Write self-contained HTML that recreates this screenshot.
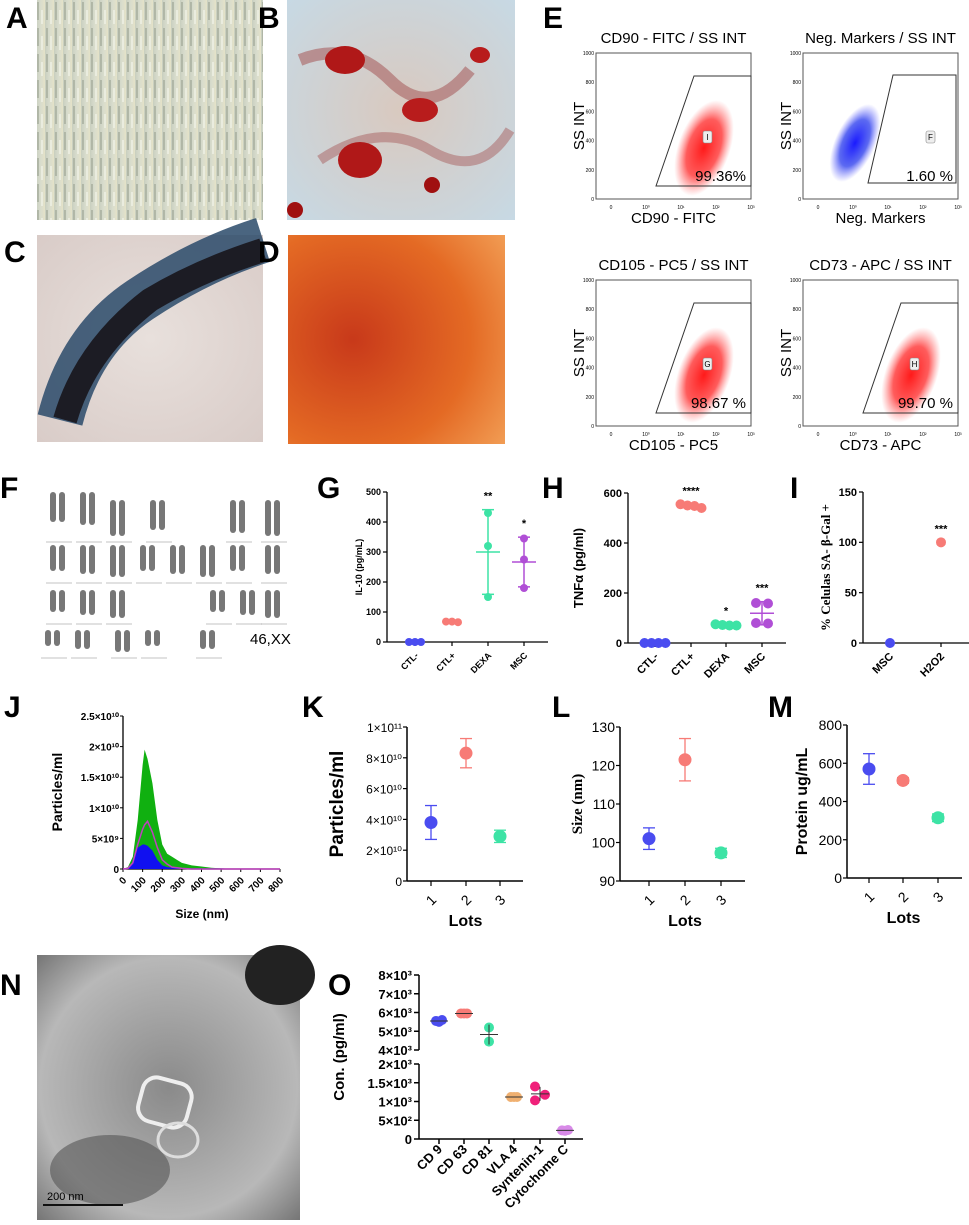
<!DOCTYPE html>
<html><head><meta charset="utf-8">
<style>
html,body{margin:0;padding:0;background:#fff}
svg{display:block;font-family:"Liberation Sans",Arial,sans-serif}
.lt{font-weight:bold;font-size:30px}
</style></head>
<body>
<svg id="fig" width="969" height="1225" viewBox="0 0 969 1225" xmlns="http://www.w3.org/2000/svg">
<defs>
<linearGradient id="gA" x1="0" y1="0" x2="1" y2="0"><stop offset="0" stop-color="#c9cfbf"/><stop offset=".5" stop-color="#d8dccd"/><stop offset="1" stop-color="#e4e2c8"/></linearGradient>
<pattern id="pA" width="9" height="26" patternUnits="userSpaceOnUse"><rect width="9" height="26" fill="url(#gA)"/><rect x="1" y="2" width="2" height="18" fill="#9ba392" opacity=".6"/><rect x="5" y="10" width="2" height="14" fill="#eef0e4" opacity=".8"/></pattern>
<radialGradient id="gB" cx=".5" cy=".5" r=".7"><stop offset="0" stop-color="#d9c9bf"/><stop offset="1" stop-color="#c7d9e4"/></radialGradient>
<radialGradient id="gC" cx=".5" cy=".5" r=".7"><stop offset="0" stop-color="#e8e0dc"/><stop offset="1" stop-color="#d9ccc8"/></radialGradient>
<radialGradient id="gD" cx=".3" cy=".5" r=".9"><stop offset="0" stop-color="#c8391a"/><stop offset=".6" stop-color="#e46a24"/><stop offset="1" stop-color="#f3a35a"/></radialGradient>
<radialGradient id="gN" cx=".5" cy=".5" r=".7"><stop offset="0" stop-color="#8a8a8a"/><stop offset=".7" stop-color="#b8b8b8"/><stop offset="1" stop-color="#777"/></radialGradient>
<radialGradient id="cloudR"><stop offset="0" stop-color="#ff1a1a"/><stop offset=".6" stop-color="#f33" stop-opacity=".8"/><stop offset="1" stop-color="#f66" stop-opacity="0"/></radialGradient>
<radialGradient id="cloudB"><stop offset="0" stop-color="#1a1aff"/><stop offset=".6" stop-color="#3344ee" stop-opacity=".8"/><stop offset="1" stop-color="#66f" stop-opacity="0"/></radialGradient>
</defs>

<rect x="37" y="0" width="226" height="220" fill="url(#pA)"/>
<g>
<rect x="287" y="0" width="228" height="220" fill="url(#gB)"/>
<path d="M300 60 Q350 40 390 80 T470 70" stroke="#a86060" stroke-width="12" fill="none" opacity=".6"/>
<path d="M320 160 Q380 120 430 150 T510 130" stroke="#a86060" stroke-width="10" fill="none" opacity=".5"/>
<ellipse cx="345" cy="60" rx="20" ry="14" fill="#b01818"/><ellipse cx="420" cy="110" rx="18" ry="12" fill="#b81c1c"/><ellipse cx="360" cy="160" rx="22" ry="18" fill="#b01818"/><ellipse cx="480" cy="55" rx="10" ry="8" fill="#b81c1c"/><circle cx="432" cy="185" r="8" fill="#a01010"/><circle cx="295" cy="210" r="8" fill="#a01010"/>
</g>
<g>
<rect x="37" y="235" width="226" height="207" fill="url(#gC)"/>
<path d="M60 420 Q80 340 140 300 Q200 260 263 240" stroke="#2a4a6a" stroke-width="46" fill="none" opacity=".85"/>
<path d="M65 420 Q85 350 150 300 Q200 270 263 250" stroke="#1c1c24" stroke-width="24" fill="none"/>
</g>
<rect x="288" y="235" width="217" height="209" fill="url(#gD)"/>
<g id="kary"></g>
<text x="250" y="644" font-size="15">46,XX</text>
<g>
<rect x="37" y="955" width="263" height="265" fill="url(#gN)"/>
<ellipse cx="280" cy="975" rx="35" ry="30" fill="#222"/>
<ellipse cx="110" cy="1170" rx="60" ry="35" fill="#555" opacity=".6"/>
<rect x="140" y="1080" width="50" height="45" rx="14" fill="none" stroke="#eee" stroke-width="4" transform="rotate(15 165 1102)"/>
<ellipse cx="178" cy="1140" rx="20" ry="17" fill="none" stroke="#ddd" stroke-width="3"/>
<line x1="43" y1="1205" x2="123" y2="1205" stroke="#111" stroke-width="2"/>
<text x="47" y="1200" font-size="11">200 nm</text>
</g>

<g>
<text class="lt" x="6" y="28">A</text><text class="lt" x="258" y="28">B</text><text class="lt" x="543" y="28">E</text>
<text class="lt" x="4" y="262">C</text><text class="lt" x="258" y="262">D</text>
<text class="lt" x="0" y="498">F</text><text class="lt" x="317" y="498">G</text><text class="lt" x="542" y="498">H</text><text class="lt" x="790" y="498">I</text>
<text class="lt" x="4" y="717">J</text><text class="lt" x="302" y="717">K</text><text class="lt" x="552" y="717">L</text><text class="lt" x="768" y="717">M</text>
<text class="lt" x="0" y="995">N</text><text class="lt" x="328" y="995">O</text>
</g>
<g id="charts"></g>
</svg>
<script>
// ---- data ----
const flowTitles=["CD90 - FITC / SS INT","Neg. Markers / SS INT","CD105 - PC5 / SS INT","CD73 - APC / SS INT"];
const flowXLabels=["CD90 - FITC","Neg. Markers","CD105 - PC5","CD73 - APC"];
const flowPct=["99.36%","1.60 %","98.67 %","99.70 %"];
const flowGate=["I","F","G","H"];
const gCats=["CTL-","CTL+","DEXA","MSC"];
const gVals=[[0,0,0],[68,68,66],[430,320,150],[345,275,180]];
const gStars=["","","**","*"];
const gTicks=[0,100,200,300,400,500];
const hCats=["CTL-","CTL+","DEXA","MSC"];
const hVals=[[0,0,0,0],[555,550,548,540],[75,72,70,70],[160,158,80,78]];
const hStars=["","****","*","***"];
const hTicks=[0,200,400,600];
const iCats=["MSC","H2O2"];
const iVals=[[0],[100]];
const iStars=["","***"];
const iTicks=[0,50,100,150];
const jSizes=[0,25,50,75,100,110,125,150,175,200,225,250,275,300,350,400,450,500,600,800];
const jTotal=[0,0.3,2,8,17,19.5,18,14,8,4,2.5,2,1.5,1,0.6,0.4,0.2,0.1,0,0];
const jMean=[0,0.1,1,4,6.5,7.2,7.8,6,3.5,1.5,0.8,0.3,0.2,0.1,0,0,0,0,0,0];
const jLow=[0,0.1,1,3.5,4,4,3.8,3,1.5,0.6,0.3,0.2,0.1,0.1,0.1,0.1,0.1,0.1,0,0];
const lots=["1","2","3"];
const kMean=[38,83,29], kErr=[11,9.5,4];
const lMean=[101,121.5,97.3], lErr=[2.8,5.5,1.2];
const mMean=[570,510,315], mErr=[80,15,20];
const oCats=["CD 9","CD 63","CD 81","VLA 4","Syntenin-1","Cytochome C"];
const oVals=[[5550,5500,5600],[5950,5950,5950],[5200,4450],[1120,1120,1120],[1400,1180,1030],[230,220,240]];
const colors=["#4a4cf0","#f77b76","#3de3a5","#b04fd6"];
const oColors=["#4a4cf0","#f77b76","#3de3a5","#f0b070","#f0207a","#d88ae8"];

const NS="http://www.w3.org/2000/svg";
const root=document.getElementById('charts');
function mk(tag,attrs,parent,name){const el=document.createElementNS(NS,tag);for(const k in attrs)el.setAttribute(k,attrs[k]);


(parent||root).appendChild(el);return el;}
function txt(s,x,y,o,parent,name){const t=mk('text',Object.assign({x:x,y:y},o||{}),parent,name);t.textContent=s;return t;}
function lin(x1,y1,x2,y2,parent,name,w,c){return mk('line',{x1,y1,x2,y2,stroke:c||'#000','stroke-width':w||1.5},parent,name);}
function sc(d0,d1,r0,r1){return v=>r0+(v-d0)*(r1-r0)/(d1-d0);}
const mean=a=>a.reduce((s,v)=>s+v,0)/a.length;
const sd=a=>{const m=mean(a);return a.length>1?Math.sqrt(a.reduce((s,v)=>s+(v-m)*(v-m),0)/(a.length-1)):0;};

// ---- karyotype ----
(function(){const g=document.getElementById('kary');
const rows=[[500,[50,80,110,150,230,265],30],[545,[50,80,110,140,170,200,230,265],26],[590,[50,80,110,210,240,265],22],[630,[45,75,115,145,200],16]];
rows.forEach((r,ri)=>r[1].forEach((x,i)=>{[0,9].forEach(dx=>{mk('rect',{x:x+dx,y:r[0]-(ri==0&&i<2?8:0),width:6,height:r[2]+(i%3)*3,rx:3,fill:'#777'},g,'chromosome');});lin(x-4,r[0]+r[2]+12,x+22,r[0]+r[2]+12,g,'chromosome-line',0.6,'#888');}));})();

// ---- flow cytometry ----
const flowBoxes=[[596,53],[803,53],[596,280],[803,280]];
flowBoxes.forEach((b,i)=>{const g=mk('g',{},root,'flow-plot-'+(i+1));const W=155,H=146,x0=b[0],y0=b[1];
txt(flowTitles[i],x0+W/2,y0-10,{'font-size':15,'text-anchor':'middle'},g,'flow-title');
mk('rect',{x:x0,y:y0,width:W,height:H,fill:'none',stroke:'#555','stroke-width':1},g,'flow-frame');
const ys=sc(0,1000,y0+H,y0);
[0,200,400,600,800,1000].forEach(v=>txt(String(v),x0-2,ys(v)+2,{'font-size':5,'text-anchor':'end'},g,'flow-y-tick'));
['0','10⁰','10¹','10²','10³'].forEach((s,k)=>txt(s,x0+15+k*35,y0+H+10,{'font-size':5,'text-anchor':'middle'},g,'flow-x-tick'));
txt('SS INT',x0-12,y0+H/2,{'font-size':15,'text-anchor':'middle',transform:`rotate(-90 ${x0-12} ${y0+H/2})`},g,'flow-y-label');
txt(flowXLabels[i],x0+W/2,y0+H+24,{'font-size':15,'text-anchor':'middle'},g,'flow-x-label');
if(i==1){mk('ellipse',{cx:x0+52,cy:y0+90,rx:20,ry:42,fill:'url(#cloudB)',transform:`rotate(25 ${x0+52} ${y0+90})`},g,'flow-cloud');
mk('path',{d:`M${x0+65} ${y0+130} L${x0+90} ${y0+22} L${x0+153} ${y0+22} L${x0+153} ${y0+130} Z`,fill:'none',stroke:'#333'},g,'flow-gate');}
else{mk('ellipse',{cx:x0+108,cy:y0+95,rx:26,ry:50,fill:'url(#cloudR)',transform:`rotate(20 ${x0+108} ${y0+95})`},g,'flow-cloud');
mk('path',{d:`M${x0+60} ${y0+133} L${x0+98} ${y0+23} L${x0+155} ${y0+23} L${x0+155} ${y0+133} Z`,fill:'none',stroke:'#333'},g,'flow-gate');}
mk('rect',{x:x0+(i==1?123:107),y:y0+78,width:9,height:12,rx:2,fill:'#eee',stroke:'#888','stroke-width':.6},g,'flow-gate-label-box');
txt(flowGate[i],x0+(i==1?127.5:111.5),y0+87,{'font-size':8,'text-anchor':'middle'},g,'flow-gate-label');
txt(flowPct[i],x0+150,y0+128,{'font-size':15,'text-anchor':'end'},g,'flow-percent');});

// ---- dot plots G,H,I ----
function dotPlot(name,ax,yTop,y0,xEnd,ticks,cats,vals,stars,catX,label,lx,r,tsz,lsz,serif,spread){
const g=mk('g',{},root,name);const ys=sc(ticks[0],ticks[ticks.length-1],y0,yTop);
lin(ax,yTop,ax,y0,g,'y-axis',1.3);lin(ax,y0,xEnd,y0,g,'x-axis',1.3);
ticks.forEach(v=>{lin(ax-4,ys(v),ax,ys(v),g,'y-tick',1.2);txt(String(v),ax-6,ys(v)+tsz*0.35,{'font-size':tsz,'font-weight':'bold','text-anchor':'end'},g,'y-tick-label');});
txt(label,lx,(yTop+y0)/2,{'font-size':lsz,'font-weight':'bold','text-anchor':'middle','font-family':serif?'Liberation Serif':'Liberation Sans',transform:`rotate(-90 ${lx} ${(yTop+y0)/2})`},g,'y-axis-title');
cats.forEach((c,i)=>{const cx=catX[i],col=colors[i%4];lin(cx,y0,cx,y0+4,g,'x-tick',1.2);
txt(c,cx+4,y0+14,{'font-size':tsz,'font-weight':'bold','text-anchor':'end',transform:`rotate(-45 ${cx+4} ${y0+14})`},g,'x-tick-label');
const v=vals[i],m=mean(v),s=sd(v);const n=v.length;
v.forEach((d,k)=>mk('circle',{cx:cx+(n>1&&s<15?(k-(n-1)/2)*spread:(s>=15&&i==3&&n==4?(k%2?6:-6):0)),cy:ys(d),r:r,fill:col},g,'dot-'+c));
if(s>15){lin(cx-12,ys(m),cx+12,ys(m),g,'mean-line',1.5,col);lin(cx,ys(m-s),cx,ys(m+s),g,'sd-bar',1.5,col);lin(cx-6,ys(m-s),cx+6,ys(m-s),g,'sd-cap',1.5,col);lin(cx-6,ys(m+s),cx+6,ys(m+s),g,'sd-cap',1.5,col);}
if(stars[i])txt(stars[i],cx,Math.min(ys(m+s),ys(Math.max(...v)))-10,{'font-size':11,'font-weight':'bold','text-anchor':'middle'},g,'significance');});}
dotPlot('chart-g-il10',387,492,642,548,gTicks,gCats,gVals,gStars,[415,452,488,524],'IL-10 (pg/mL)',362,4,9,9,false,6);
dotPlot('chart-h-tnfa',628,493,643,786,hTicks,hCats,hVals,hStars,[655,691,726,762],'TNFα (pg/ml)',583,5,11,13,false,7);
dotPlot('chart-i-sagal',863,492,643,969,iTicks,iCats,iVals,iStars,[890,941],'% Celulas SA- β-Gal +',830,5,11,13,true,7);

// ---- J distribution ----
(function(){const g=mk('g',{},root,'chart-j-nta');const ax=123,y0=869;const xs=sc(0,800,123,280),ys=sc(0,25,869,716);
lin(ax,716,ax,y0,g,'y-axis',1.3);lin(ax,y0,280,y0,g,'x-axis',1.3);
const yt=[0,5,10,15,20,25],yl=['0','5×10⁹','1×10¹⁰','1.5×10¹⁰','2×10¹⁰','2.5×10¹⁰'];
yt.forEach((v,i)=>{lin(ax-3,ys(v),ax,ys(v),g,'y-tick',1);txt(yl[i],ax-4,ys(v)+4,{'font-size':10,'font-weight':'bold','text-anchor':'end'},g,'y-tick-label');});
[0,100,200,300,400,500,600,700,800].forEach(v=>{lin(xs(v),y0,xs(v),y0+3,g,'x-tick',1);txt(String(v),xs(v)+4,y0+12,{'font-size':10,'font-weight':'bold','text-anchor':'end',transform:`rotate(-45 ${xs(v)+4} ${y0+12})`},g,'x-tick-label');});
mk('path',{d:'M'+xs(0)+' '+y0+' '+jSizes.map((s,i)=>'L'+xs(s)+' '+ys(jTotal[i])).join(' ')+' L'+xs(800)+' '+y0+'Z',fill:'#10b010'},g,'area-total');
mk('path',{d:'M'+xs(0)+' '+y0+' '+jSizes.map((s,i)=>'L'+xs(s)+' '+ys(jLow[i])).join(' ')+' L'+xs(800)+' '+y0+'Z',fill:'#1010f0'},g,'area-low');
mk('path',{d:'M'+jSizes.map((s,i)=>xs(s)+' '+ys(jMean[i])).join(' L'),fill:'none',stroke:'#c040c0','stroke-width':1.5},g,'line-mean');
txt('Particles/ml',62,792,{'font-size':14,'font-weight':'bold','text-anchor':'middle',transform:'rotate(-90 62 792)'},g,'y-axis-title');
txt('Size (nm)',202,918,{'font-size':12,'font-weight':'bold','text-anchor':'middle'},g,'x-axis-title');})();

// ---- K L M ----
function lotPlot(name,ax,yTop,y0,xEnd,d0,d1,ticks,tickLabels,means,errs,catX,label,lx,serif,tsz,lsz){
const g=mk('g',{},root,name);const ys=sc(d0,d1,y0,yTop);
lin(ax,yTop,ax,y0,g,'y-axis',1.5);lin(ax,y0,xEnd,y0,g,'x-axis',1.5);
ticks.forEach((v,i)=>{lin(ax-4,ys(v),ax,ys(v),g,'y-tick',1.2);txt(tickLabels[i],ax-5,ys(v)+5,{'font-size':tsz,'text-anchor':'end'},g,'y-tick-label');});
txt(label,lx,(yTop+y0)/2,{'font-size':lsz,'font-weight':'bold','text-anchor':'middle','font-family':serif?'Liberation Serif':'Liberation Sans',transform:`rotate(-90 ${lx} ${(yTop+y0)/2})`},g,'y-axis-title');
lots.forEach((c,i)=>{const cx=catX[i],col=colors[i];lin(cx,y0,cx,y0+5,g,'x-tick',1.2);
txt(c,cx,y0+24,{'font-size':14,'text-anchor':'middle',transform:`rotate(-45 ${cx} ${y0+19})`},g,'x-tick-label');
lin(cx,ys(means[i]-errs[i]),cx,ys(means[i]+errs[i]),g,'error-bar',1.3,col);lin(cx-6,ys(means[i]-errs[i]),cx+6,ys(means[i]-errs[i]),g,'error-cap',1.3,col);lin(cx-6,ys(means[i]+errs[i]),cx+6,ys(means[i]+errs[i]),g,'error-cap',1.3,col);
mk('circle',{cx:cx,cy:ys(means[i]),r:6.5,fill:col},g,'point-lot-'+c);});
txt('Lots',(catX[0]+catX[2])/2,y0+45,{'font-size':16,'font-weight':'bold','text-anchor':'middle'},g,'x-axis-title');}
lotPlot('chart-k-particles',407,727,881,523,0,100,[0,20,40,60,80,100],['0','2×10¹⁰','4×10¹⁰','6×10¹⁰','8×10¹⁰','1×10¹¹'],kMean,kErr,[431,466,500],'Particles/ml',343,false,12,19);
lotPlot('chart-l-size',620,727,881,745,90,130,[90,100,110,120,130],['90','100','110','120','130'],lMean,lErr,[649,685,721],'Size (nm)',582,true,14,15);
lotPlot('chart-m-protein',847,725,878,962,0,800,[0,200,400,600,800],['0','200','400','600','800'],mMean,mErr,[869,903,938],'Protein ug/mL',807,false,14,16);

// ---- O broken axis ----
(function(){const g=mk('g',{},root,'chart-o-markers');const ax=419,xEnd=583;
const yU=sc(4000,8000,1050,975),yL=sc(0,2000,1139,1064);const ys=v=>v>=4000?yU(v):yL(v);
lin(ax,975,ax,1050,g,'y-axis-upper',1.5);lin(ax,1064,ax,1139,g,'y-axis-lower',1.5);lin(ax,1139,xEnd,1139,g,'x-axis',1.5);
[[4000,'4×10³'],[5000,'5×10³'],[6000,'6×10³'],[7000,'7×10³'],[8000,'8×10³'],[0,'0'],[500,'5×10²'],[1000,'1×10³'],[1500,'1.5×10³'],[2000,'2×10³']].forEach(t=>{lin(ax-5,ys(t[0]),ax,ys(t[0]),g,'y-tick',1.5);txt(t[1],ax-7,ys(t[0])+5,{'font-size':13,'font-weight':'bold','text-anchor':'end'},g,'y-tick-label');});
txt('Con. (pg/ml)',344,1057,{'font-size':15,'font-weight':'bold','text-anchor':'middle',transform:'rotate(-90 344 1057)'},g,'y-axis-title');
const cx=[439,464,489,514,540,565];
oCats.forEach((c,i)=>{lin(cx[i],1139,cx[i],1144,g,'x-tick',1.5);
txt(c,cx[i]+4,1150,{'font-size':13,'font-weight':'bold','text-anchor':'end',transform:`rotate(-45 ${cx[i]+4} 1150)`},g,'x-tick-label');
const v=oVals[i],m=mean(v),s=sd(v);
v.forEach((d,k)=>mk('circle',{cx:cx[i]+(s<100?(k-(v.length-1)/2)*3:(i==4?(k%2?5:-5):0)),cy:ys(d),r:5,fill:oColors[i]},g,'dot-'+c));
lin(cx[i]-9,ys(m),cx[i]+9,ys(m),g,'mean-line',1,'#333');
if(s>100)lin(cx[i],ys(m-s),cx[i],ys(m+s),g,'sd-bar',1,'#333');});})();
</script>
</body></html>
